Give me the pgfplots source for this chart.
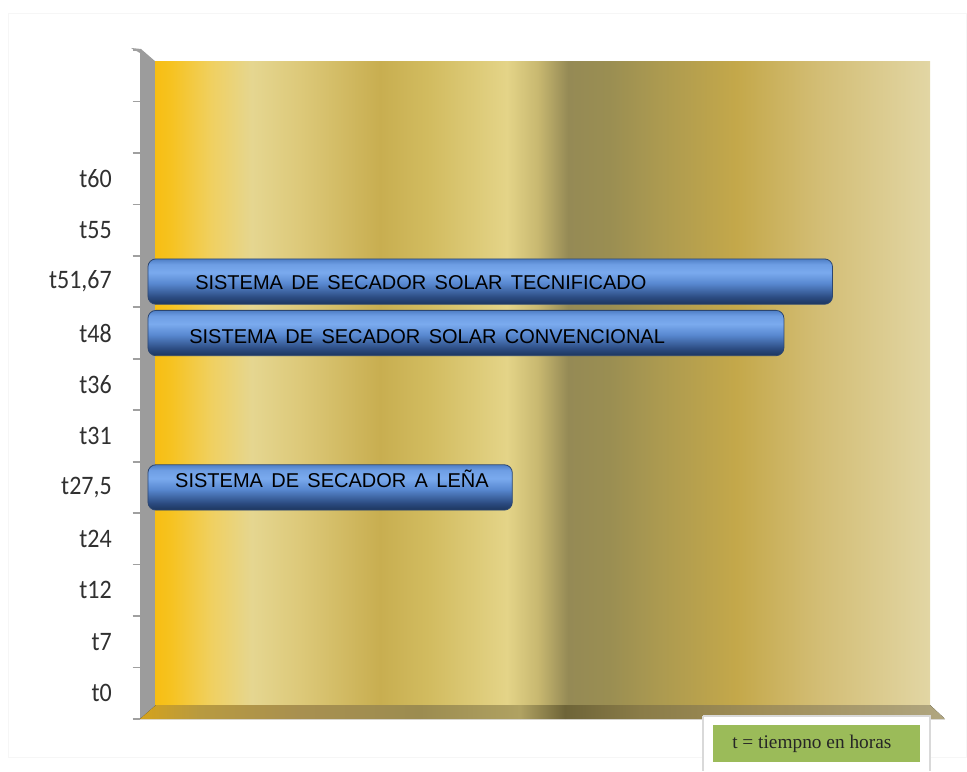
\documentclass[border=0pt]{standalone}
\usepackage{pgfplots}
\pgfplotsset{compat=1.18}
\usepackage{fontspec}
\newfontfamily\carlito{Carlito}[FakeStretch=0.9]
\newfontfamily\arialf{Liberation Sans}[WordSpace=1.5]
\newfontfamily\timesf{Liberation Serif}
\definecolor{w1}{HTML}{F7BE12}
\definecolor{w2}{HTML}{F6C322}
\definecolor{w3}{HTML}{F0D060}
\definecolor{w4}{HTML}{E5D690}
\definecolor{w5}{HTML}{DCC878}
\definecolor{w6}{HTML}{C8AE50}
\definecolor{w7}{HTML}{D2BC60}
\definecolor{w8}{HTML}{E4D488}
\definecolor{w9}{HTML}{C8B870}
\definecolor{w10}{HTML}{958A55}
\definecolor{w11}{HTML}{9A8E52}
\definecolor{w12}{HTML}{AC9A50}
\definecolor{w13}{HTML}{C4A84A}
\definecolor{w14}{HTML}{D2BC72}
\definecolor{w15}{HTML}{E2D6A4}
\definecolor{f1}{HTML}{D4A21C}
\definecolor{f2}{HTML}{B89A40}
\definecolor{f3}{HTML}{A89050}
\definecolor{f4}{HTML}{9C8C50}
\definecolor{f5}{HTML}{B0A262}
\definecolor{f6}{HTML}{6E6438}
\definecolor{f7}{HTML}{8A7C48}
\definecolor{f8}{HTML}{A08E58}
\definecolor{f9}{HTML}{B0A680}
\definecolor{sidegray}{HTML}{9C9C9C}
\definecolor{tickgray}{HTML}{A0A0A0}
\definecolor{labelgray}{HTML}{303030}
\definecolor{b1}{HTML}{1C355E}
\definecolor{b2}{HTML}{2C4C82}
\definecolor{b3}{HTML}{5888D0}
\definecolor{b4}{HTML}{7AAAEE}
\definecolor{b5}{HTML}{6E9EE4}
\definecolor{b6}{HTML}{4F7FC6}
\definecolor{barline}{HTML}{2C4670}
\definecolor{legendgreen}{HTML}{9BBB59}
\pgfdeclareverticalshading{barshade}{100bp}{color(0bp)=(b1); color(25bp)=(b1); color(33bp)=(b2); color(48bp)=(b3); color(60bp)=(b4); color(69bp)=(b5); color(75bp)=(b6); color(100bp)=(b6)}
\newcommand\wseg[4]{\fill[left color=#3, right color=#4] (#1,62) rectangle (#2,705.5);}
\newcommand\fseg[4]{\fill[left color=#3, right color=#4] (#1,704) rectangle (#2,720);}
\begin{document}
\begin{tikzpicture}
\begin{scope}[x=0.75pt,y=-0.75pt,yshift=578.25pt]
\useasboundingbox (0,0) rectangle (967,771);
\draw[gray!7, line width=0.5pt] (8,13) rectangle (966,757);
% side wall
\fill[sidegray] (131,48) -- (141,49) -- (156,62) -- (156,705) -- (140,719) -- (140,53) -- cycle;
% back wall
\wseg{155}{172}{w1}{w2}
\wseg{172}{211}{w2}{w3}
\wseg{211}{252}{w3}{w4}
\wseg{252}{303}{w4}{w5}
\wseg{303}{380}{w5}{w6}
\wseg{380}{430}{w6}{w7}
\wseg{430}{507}{w7}{w8}
\wseg{507}{538}{w8}{w9}
\wseg{538}{568}{w9}{w10}
\wseg{568}{609}{w10}{w11}
\wseg{609}{660}{w11}{w12}
\wseg{660}{737}{w12}{w13}
\wseg{737}{813}{w13}{w14}
\wseg{813}{930}{w14}{w15}
% floor
\begin{scope}
\clip (140,719) -- (156,705) -- (930,705) -- (945,719) -- cycle;
\fseg{140}{200}{f1}{f2}
\fseg{200}{300}{f2}{f3}
\fseg{300}{420}{f3}{f4}
\fseg{420}{520}{f4}{f5}
\fseg{520}{565}{f5}{f6}
\fseg{565}{640}{f6}{f7}
\fseg{640}{760}{f7}{f8}
\fseg{760}{945}{f8}{f9}
\end{scope}
\end{scope}
\begin{axis}[
  at={(105pt,39pt)}, anchor=south west,
  scale only axis, width=609.75pt, height=501.75pt,
  xmin=-0.6, xmax=60.76, ymin=-0.5, ymax=12.5,
  axis lines*=left, axis line style={draw=none},
  xtick=\empty,
  ytick={0,1,2,3,4,5,6,7,8,9,10},
  yticklabels={t0,t7,t12,t24,{t27,5},t31,t36,t48,{t51,67},t55,t60},
  minor ytick={-0.5,0.5,1.5,2.5,3.5,4.5,5.5,6.5,7.5,8.5,9.5,10.5,11.5,12.5},
  major tick length=0pt, minor tick length=5.5pt, tick align=outside,
  minor tick style={draw=tickgray, line width=1.3pt},
  yticklabel style={font=\carlito\fontsize{20}{22}\selectfont, text=labelgray, inner sep=0pt, xshift=-21pt},
  clip=false,
  mybar/.style={xbar, bar width=34pt, bar shift=0pt, draw=barline, line width=0.6pt,
    shading=barshade, rounded corners=6pt},
]
\addplot[mybar] coordinates {(27.5,4)};
\addplot[mybar] coordinates {(48,7)};
\addplot[mybar] coordinates {(51.67,8)};
\node[anchor=base west, font=\arialf\fontsize{15}{18}\selectfont, inner sep=0pt] at (axis cs:3.55,7.837) {SISTEMA DE SECADOR SOLAR TECNIFICADO};
\node[anchor=base west, font=\arialf\fontsize{15}{18}\selectfont, inner sep=0pt] at (axis cs:3.1,6.787) {SISTEMA DE SECADOR SOLAR CONVENCIONAL};
\node[anchor=base west, font=\arialf\fontsize{15}{18}\selectfont, inner sep=0pt] at (axis cs:2.04,3.989) {SISTEMA DE SECADOR A LEÑA};
\end{axis}
\begin{scope}[x=0.75pt,y=-0.75pt,yshift=578.25pt]
\fill[white] (703,716) rectangle (930,771);
\draw[gray!30, line width=0.8pt] (703,716) -- (930,716) -- (930,771);
\draw[gray!30, line width=0.8pt] (703,716) -- (703,771);
\fill[legendgreen] (713,725) rectangle (920,762);
\node[anchor=west, font=\timesf\fontsize{14.5}{16}\selectfont, text=black!85, inner sep=0pt] at (732,744) {t = tiempno en horas};
\end{scope}
\end{tikzpicture}
\end{document}
